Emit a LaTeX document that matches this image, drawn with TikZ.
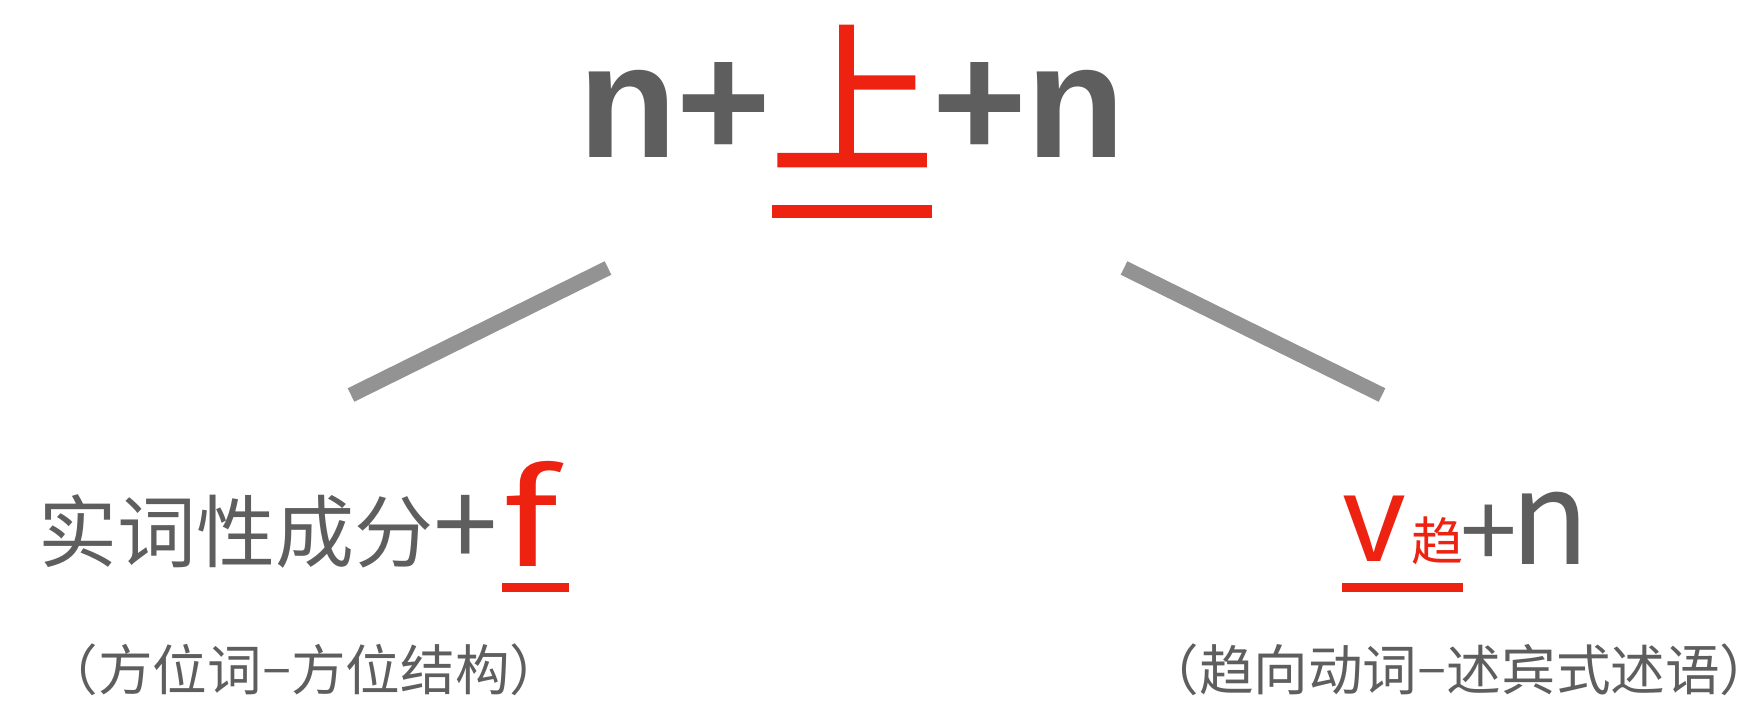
\documentclass[tikz,border=0pt]{standalone}
\usepackage{fontspec}
\newfontfamily\cjk{Noto Sans CJK SC}
\newfontfamily\cjkb[FakeBold=1.2]{Noto Sans CJK SC}
\newfontfamily\lat{Liberation Sans}
\definecolor{txtgrey}{HTML}{5E5E5E}
\definecolor{accred}{HTML}{EE2211}
\definecolor{linegrey}{HTML}{939393}
\tikzset{
  lbl/.style={inner sep=0pt, outer sep=0pt, text=txtgrey},
  redlbl/.style={inner sep=0pt, outer sep=0pt, text=accred},
  uline/.style={fill=accred, draw=none},
  branch/.style={draw=linegrey, line width=7.5pt, line cap=butt}
}
\begin{document}
\begin{tikzpicture}[x=0.5pt,y=-0.5pt]
\useasboundingbox[fill=white] (0,0) rectangle (1748,701);
% top formula
\node[lbl, anchor=base west, font=\lat\bfseries\fontsize{81pt}{90pt}\selectfont] (topl) at (578,157) {n+};
\node[redlbl, anchor=center, font=\cjkb\fontsize{82pt}{90pt}\selectfont] (shang) at (852,96) {上};
\node[lbl, anchor=base west, font=\lat\bfseries\fontsize{81pt}{90pt}\selectfont] (topr) at (932,157) {+n};
\fill[uline] (772,205) rectangle (932,218);
% branches
\coordinate (lt) at (608,268);
\coordinate (lb) at (351,395);
\coordinate (rt) at (1124,268);
\coordinate (rb) at (1382,395);
\draw[branch] (lt) -- (lb);
\draw[branch] (rt) -- (rb);
% bottom left
\node[lbl, anchor=center, font=\cjk\fontsize{39.5pt}{45pt}\selectfont] (shici) at (235.5,531.5) {实词性成分};
\node[lbl, anchor=center, font=\cjk\fontsize{58pt}{64pt}\selectfont] (lplus) at (466,531) {+};
\node[redlbl, anchor=center, font=\cjk\fontsize{65pt}{70pt}\selectfont] (lf) at (530,514) {\scalebox{1.35}[1]{f}};
\fill[uline] (502,583) rectangle (569,592);
\node[lbl, anchor=center, font=\cjk\fontsize{27.3pt}{30pt}\selectfont] (lnote) at (304,670) {\kern-0.4em（方位词\raisebox{0.07em}{–}方位结构）\kern-0.4em};
% bottom right
\node[redlbl, anchor=center, font=\lat\fontsize{62pt}{66pt}\selectfont] (rv) at (1374,529) {v};
\node[redlbl, anchor=center, font=\cjk\fontsize{26pt}{30pt}\selectfont] (rqu) at (1437,541) {趋};
\node[lbl, anchor=center, font=\cjk\fontsize{51pt}{56pt}\selectfont] (rplus) at (1488.5,536.5) {+};
\node[lbl, anchor=center, font=\cjk\fontsize{65pt}{70pt}\selectfont] (rn) at (1550.5,528.5) {n};
\fill[uline] (1342,583) rectangle (1463,592);
\node[lbl, anchor=center, font=\cjk\fontsize{27.3pt}{30pt}\selectfont] (rnote) at (1459.5,670) {\kern-0.4em（趋向动词\raisebox{0.07em}{–}述宾式述语）\kern-0.4em};
\end{tikzpicture}
\end{document}
